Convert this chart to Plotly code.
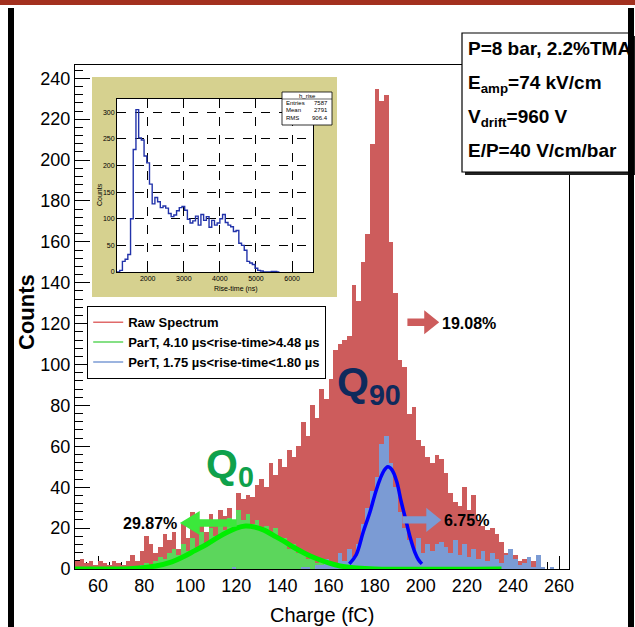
import plotly.graph_objects as go

# ---------------- data ----------------
charge_bin_lo = list(range(50, 262, 2))   # 2 fC bins, left edges
bin_width = 2

raw_counts = [4, 5, 3, 4, 2, 4, 3, 2, 4, 3,
              2, 4, 7, 4, 9, 16, 12, 8, 11, 17,
              14, 18, 10, 22, 15, 28, 20, 24, 18, 27,
              22, 29, 26, 30, 24, 37, 34, 36, 35, 41,
              44, 40, 52, 46, 54, 50, 58, 55, 60, 72,
              65, 80, 74, 88, 83, 93, 107, 110, 112, 114,
              139, 131, 150, 164, 208, 235, 229, 232, 160, 135,
              102, 99, 76, 79, 63, 60, 55, 52, 56, 54,
              47, 37, 33, 31, 40, 29, 36, 24, 21, 19,
              20, 17, 13, 8, 5, 7, 4, 5, 3, 4,
              2, 1, 0, 1, 0, 0]

part_counts = [0, 0, 0, 0, 0, 0, 0, 0, 0, 0,
               0, 0, 1, 0, 2, 3, 1, 4, 6, 5,
               8, 10, 7, 12, 9, 15, 10, 18, 12, 20,
               16, 22, 19, 25, 21, 29, 24, 27, 22, 24,
               19, 21, 16, 20, 14, 15, 10, 12, 8, 9,
               5, 6, 3, 4, 2, 2, 1, 1, 0, 0,
               0, 0, 0, 0, 0, 0, 0, 0, 0, 0,
               0, 0, 0, 0, 0, 0, 0, 0, 0, 0,
               0, 0, 0, 0, 0, 0, 0, 0, 0, 0,
               0, 0, 0, 0, 0, 0, 0, 0, 0, 0,
               0, 0, 0, 0, 0, 0]

pert_counts = [0, 0, 0, 0, 0, 0, 0, 0, 0, 0,
               0, 0, 0, 0, 2, 0, 0, 0, 0, 0,
               0, 0, 0, 0, 0, 0, 0, 0, 0, 0,
               0, 0, 0, 0, 1, 0, 0, 0, 0, 0,
               0, 0, 0, 0, 0, 0, 0, 0, 0, 1,
               1, 0, 2, 2, 5, 3, 2, 8, 4, 10,
               6, 12, 22, 30, 38, 45, 61, 65, 52, 40,
               28, 20, 14, 10, 15, 8, 12, 9, 12, 13,
               11, 8, 14, 7, 12, 6, 10, 5, 9, 4,
               8, 5, 3, 7, 10, 5, 2, 3, 6, 1,
               7, 1, 0, 1, 0, 0]

# fitted curves, points
part_fit_q = [50, 75, 85, 92, 97, 102, 107, 112, 116, 120, 124, 128, 132, 136, 140, 145, 150, 155, 160, 165, 172, 180, 235]
part_fit_y = [0, 0.3, 1.5, 3.5, 6, 9, 12, 15.5, 18, 20, 21, 20.5, 19, 16.5, 14, 10.5, 7.5, 5, 3, 1.5, 0.5, 0, 0]
pert_fit_q = [169, 172, 175, 178, 180, 182, 184, 185.7, 187.5, 189.5, 191.5, 193.5, 195.5, 197.5, 199, 200.5]
pert_fit_y = [2.5, 7, 18, 28, 36, 43, 48, 50, 48.5, 43, 33, 24, 15, 8, 4.5, 2.5]

# inset: rise-time histogram (75 ns bins)
rise_bin_lo = [1150 + 75 * i for i in range(60)]
rise_width = 75
rise_counts = [0, 3, 20, 24, 33, 100, 230, 305, 252, 248,
               218, 205, 165, 128, 140, 132, 121, 124, 120, 110,
               104, 107, 115, 121, 123, 116, 99, 92, 96, 105,
               88, 108, 97, 104, 84, 97, 88, 92, 100, 108,
               93, 88, 85, 76, 78, 54, 50, 41, 20, 17,
               14, 7, 3, 2, 0, 0, 0, 1, 1, 0]

legend_names = ["Raw Spectrum",
                "ParT, 4.10 µs&lt;rise-time&gt;4.48 µs",
                "PerT, 1.75 µs&lt;rise-time&lt;1.80 µs"]

# ---------------- styles ----------------
FONT = "Liberation Sans, Arial, Helvetica, sans-serif"
RED = "#cd5c5c"
GREEN_FILL = "#5cd65c"
BLUE_FILL = "#7b9bd4"
GREEN_LINE = "#00ee00"
BLUE_LINE = "#0000ff"

L, R, T, B = 75, 569, 65, 569
W, H = 635, 627


def px_x(px):
    return (px - L) / (R - L)


def px_y(py):
    return (B - py) / (B - T)


centers = [lo + bin_width / 2 for lo in charge_bin_lo]

fig = go.Figure()
fig.add_trace(go.Bar(x=centers, y=raw_counts, width=bin_width, marker=dict(color=RED, line=dict(width=0)),
                     showlegend=False))
fig.add_trace(go.Bar(x=centers, y=part_counts, width=bin_width, marker=dict(color=GREEN_FILL, line=dict(width=0)),
                     showlegend=False))
fig.add_trace(go.Bar(x=centers, y=pert_counts, width=bin_width, marker=dict(color=BLUE_FILL, line=dict(width=0)),
                     showlegend=False))
fig.add_trace(go.Scatter(x=part_fit_q, y=part_fit_y, mode="lines", line=dict(color=GREEN_LINE, width=5, shape="spline"),
                         showlegend=False))
fig.add_trace(go.Scatter(x=pert_fit_q, y=pert_fit_y, mode="lines", line=dict(color=BLUE_LINE, width=3.5, shape="spline"),
                         showlegend=False))
# legend entries
for name, col in zip(legend_names, ["#e06a6a", "#5cd65c", "#7b9bd4"]):
    fig.add_trace(go.Scatter(x=[None], y=[None], mode="lines", line=dict(color=col, width=1.5), name=name))

# inset histogram
rx = rise_bin_lo + [rise_bin_lo[-1] + rise_width]
ry = rise_counts + [rise_counts[-1]]
fig.add_trace(go.Scatter(x=rx, y=ry, mode="lines", line=dict(color="#2233aa", width=1.4, shape="hv"),
                         xaxis="x2", yaxis="y2", showlegend=False))

shapes = []
# inset background
shapes.append(dict(type="rect", xref="paper", yref="paper", x0=px_x(92), x1=px_x(337), y0=px_y(297), y1=px_y(77),
                   fillcolor="#d6d18f", line=dict(width=0), layer="below"))
shapes.append(dict(type="rect", xref="paper", yref="paper", x0=px_x(117), x1=px_x(313), y0=px_y(272), y1=px_y(99),
                   fillcolor="white", line=dict(width=0), layer="below"))
# stats box of inset
shapes.append(dict(type="rect", xref="paper", yref="paper", x0=px_x(282), x1=px_x(332), y0=px_y(125), y1=px_y(92),
                   fillcolor="white", line=dict(color="black", width=0.8), layer="above"))
shapes.append(dict(type="line", xref="paper", yref="paper", x0=px_x(282), x1=px_x(332), y0=px_y(99), y1=px_y(99),
                   line=dict(color="black", width=0.6), layer="above"))


def block_arrow(x0, x1, x2, y, s, h, color):
    p = (f"M {x0},{y - s} L {x1},{y - s} L {x1},{y - h} L {x2},{y} L {x1},{y + h} "
         f"L {x1},{y + s} L {x0},{y + s} Z")
    return dict(type="path", xref="x", yref="y", path=p, fillcolor=color, line=dict(width=0), layer="above")


shapes.append(block_arrow(194.2, 201.5, 208.0, 120.7, 1.8, 5.9, RED))
shapes.append(block_arrow(120.1, 104.1, 95.5, 22.5, 1.8, 5.9, "#3be83b"))
shapes.append(block_arrow(192.0, 202.4, 208.9, 24.0, 1.8, 5.9, BLUE_FILL))

# upper-right info box with shadow
shapes.append(dict(type="rect", xref="paper", yref="paper", x0=px_x(465), x1=px_x(636), y0=px_y(175), y1=px_y(36),
                   fillcolor="#222222", line=dict(width=0), layer="above"))
shapes.append(dict(type="rect", xref="paper", yref="paper", x0=px_x(462), x1=px_x(633), y0=px_y(172), y1=px_y(33),
                   fillcolor="white", line=dict(color="black", width=1.2), layer="above"))
# outer page decoration
shapes.append(dict(type="rect", xref="paper", yref="paper", x0=px_x(0), x1=px_x(635), y0=px_y(5), y1=px_y(0),
                   fillcolor="#a3301f", line=dict(width=0), layer="above"))
shapes.append(dict(type="rect", xref="paper", yref="paper", x0=px_x(8), x1=px_x(14), y0=px_y(627), y1=px_y(8),
                   fillcolor="black", line=dict(width=0), layer="above"))
shapes.append(dict(type="rect", xref="paper", yref="paper", x0=px_x(628), x1=px_x(634), y0=px_y(627), y1=px_y(8),
                   fillcolor="black", line=dict(width=0), layer="above"))

ann = []
bold = dict(family=FONT, color="black", weight="bold")
ann.append(dict(text="Q<sub>90</sub>", xref="x", yref="y", x=162.6, y=90, xanchor="left", yanchor="middle",
                showarrow=False, font=dict(family=FONT, size=41, color="#0f2a5c", weight="bold")))
ann.append(dict(text="Q<sub>0</sub>", xref="x", yref="y", x=106.0, y=50, xanchor="left", yanchor="middle",
                showarrow=False, font=dict(family=FONT, size=41, color="#0fa14b", weight="bold")))
ann.append(dict(text="19.08%", xref="x", yref="y", x=208.5, y=120, xanchor="left", yanchor="middle",
                showarrow=False, font=dict(bold, size=16)))
ann.append(dict(text="29.87%", xref="x", yref="y", x=95.3, y=22.5, xanchor="right", yanchor="middle",
                showarrow=False, font=dict(bold, size=16)))
ann.append(dict(text="6.75%", xref="x", yref="y", x=209.3, y=23.5, xanchor="left", yanchor="middle",
                showarrow=False, font=dict(bold, size=16)))
info_lines = ["P=8 bar, 2.2%TMA", "E<sub>amp</sub>=74 kV/cm", "V<sub>drift</sub>=960 V", "E/P=40 V/cm/bar"]
for txt, py in zip(info_lines, [49, 84, 118, 151]):
    ann.append(dict(text=txt, xref="paper", yref="paper", x=px_x(466), y=px_y(py), xanchor="left",
                    yanchor="middle", showarrow=False, font=dict(bold, size=19)))
ann.append(dict(text="Counts", xref="paper", yref="paper", x=px_x(26), y=px_y(312), textangle=-90,
                xanchor="center", yanchor="middle", showarrow=False, font=dict(bold, size=22)))
ann.append(dict(text="Charge (fC)", xref="paper", yref="paper", x=px_x(322), y=px_y(615),
                xanchor="center", yanchor="middle", showarrow=False, font=dict(family=FONT, size=20, color="black")))
# inset labels
ann.append(dict(text="Rise-time (ns)", xref="paper", yref="paper", x=px_x(236), y=px_y(289),
                xanchor="center", yanchor="middle", showarrow=False, font=dict(family=FONT, size=7, color="black")))
ann.append(dict(text="Counts", xref="paper", yref="paper", x=px_x(99), y=px_y(195), textangle=-90,
                xanchor="center", yanchor="middle", showarrow=False, font=dict(family=FONT, size=7, color="black")))
ann.append(dict(text="h_rise", xref="paper", yref="paper", x=px_x(307), y=px_y(95.5),
                xanchor="center", yanchor="middle", showarrow=False, font=dict(family=FONT, size=6, color="black")))
for lab, val, py in zip(["Entries", "Mean", "RMS"], ["7587", "2791", "906.4"], [103, 110, 118]):
    ann.append(dict(text=lab, xref="paper", yref="paper", x=px_x(284), y=px_y(py), xanchor="left",
                    yanchor="middle", showarrow=False, font=dict(family=FONT, size=6, color="black")))
    ann.append(dict(text=val, xref="paper", yref="paper", x=px_x(330), y=px_y(py), xanchor="right",
                    yanchor="middle", showarrow=False, font=dict(family=FONT, size=6, color="black")))

fig.update_layout(
    width=W, height=H, autosize=False,
    margin=dict(l=L, r=W - R, t=T, b=H - B, pad=0),
    barmode="overlay", bargap=0,
    plot_bgcolor="white", paper_bgcolor="white",
    shapes=shapes, annotations=ann,
    legend=dict(x=px_x(87), y=px_y(306), xanchor="left", yanchor="top", bgcolor="white",
                bordercolor="black", borderwidth=1.2, font=dict(family=FONT, size=13, color="black", weight="bold"),
                tracegroupgap=0, itemwidth=30),
    xaxis=dict(range=[50, 264.3], tick0=0, dtick=20, ticks="inside", ticklen=13, tickwidth=1, tickcolor="black",
               minor=dict(tick0=0, dtick=5, ticks="inside", ticklen=7, tickcolor="black"),
               showline=True, linecolor="black", linewidth=1, mirror=True, showgrid=False, zeroline=False,
               layer="below traces", tickfont=dict(family=FONT, size=18, color="black"), domain=[0, 1],
               automargin=False),
    yaxis=dict(range=[0, 246.5], tick0=0, dtick=20, ticks="inside", ticklen=15, tickwidth=1, tickcolor="black",
               minor=dict(tick0=0, dtick=4, ticks="inside", ticklen=8, tickcolor="black"),
               showline=True, linecolor="black", linewidth=1, mirror=True, showgrid=False, zeroline=False,
               layer="below traces", tickfont=dict(family=FONT, size=18, color="black"), domain=[0, 1],
               automargin=False),
    xaxis2=dict(domain=[px_x(117), px_x(313)], anchor="y2", range=[1150, 6580], dtick=1000, tick0=0,
                ticks="inside", ticklen=3, tickcolor="black", showline=True, linecolor="black", mirror=True,
                showgrid=True, gridcolor="black", gridwidth=0.7, griddash="dash", zeroline=False,
                tickfont=dict(family=FONT, size=7, color="black")),
    yaxis2=dict(domain=[px_y(272), px_y(99)], anchor="x2", range=[0, 325], dtick=50, tick0=0,
                ticks="inside", ticklen=3, tickcolor="black", showline=True, linecolor="black", mirror=True,
                showgrid=True, gridcolor="black", gridwidth=0.7, griddash="dash", zeroline=False,
                tickfont=dict(family=FONT, size=7, color="black")),
)

fig.write_html("out.html", config={"displayModeBar": False},
               post_script="document.body.style.margin='0';document.body.style.overflow='hidden';")
